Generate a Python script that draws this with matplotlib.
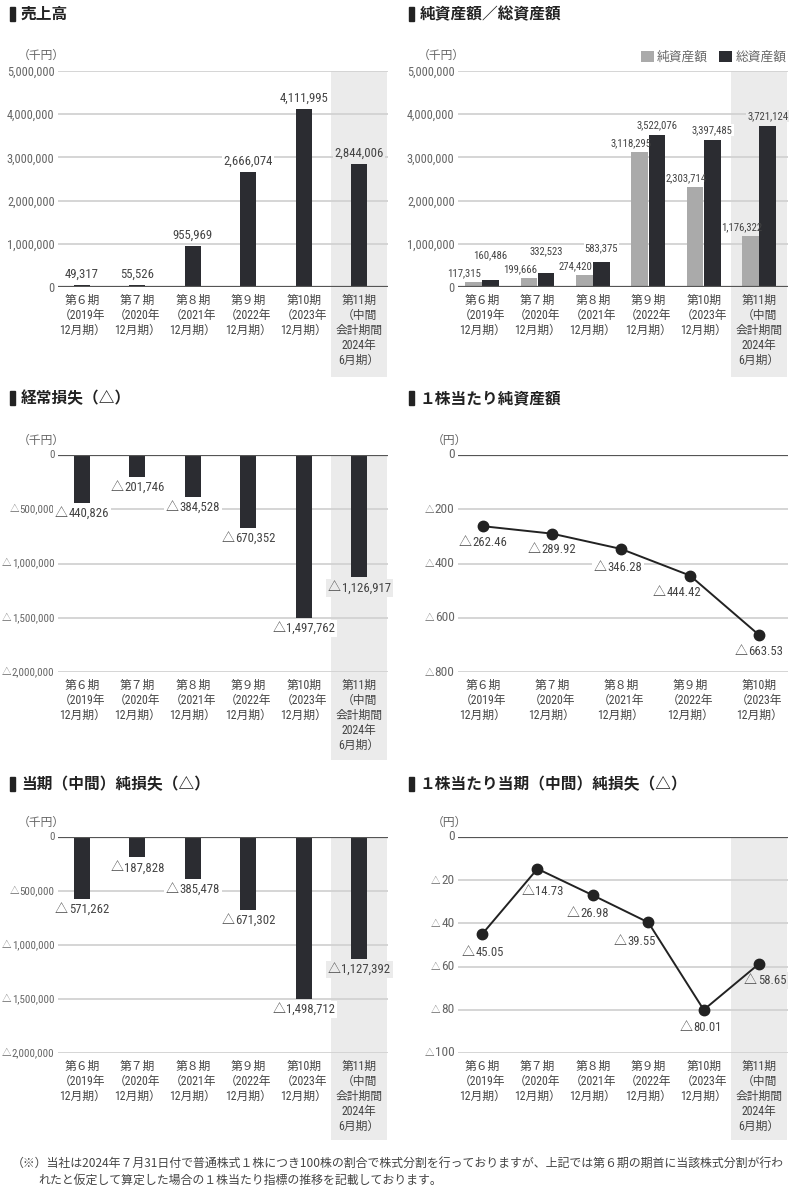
import matplotlib
matplotlib.use('Agg')
import matplotlib.pyplot as plt
from matplotlib import font_manager
from matplotlib.patches import Rectangle
from matplotlib.offsetbox import TextArea, HPacker, AnnotationBbox

CJK = 'Noto Sans CJK JP'
plt.rcParams['font.family'] = [CJK, 'DejaVu Sans']


def find_condensed():
    pref = ['Roboto Condensed', 'Liberation Sans Narrow', 'Noto Sans Condensed', 'Open Sans Condensed',
            'DejaVu Sans Condensed', 'Noto Sans', 'Roboto', 'Open Sans', 'DejaVu Sans', 'Inter', 'Lato']
    cond_names = ('ultra-condensed', 'extra-condensed', 'condensed', 'semi-condensed')
    found = []
    for f in font_manager.fontManager.ttflist:
        st = f.stretch
        if isinstance(st, str):
            cond = st in cond_names
        else:
            cond = st < 500
        if 'Condensed' in f.name or 'Narrow' in f.name:
            cond = True
        w = f.weight
        if isinstance(w, str):
            w = {'normal': 400, 'regular': 400, 'book': 400, 'medium': 500}.get(w, 700 if 'bold' in w else 300)
        if cond and w in (400, 500) and f.style == 'normal' and 'CJK' not in f.name and 'Mono' not in f.name:
            rank = pref.index(f.name) if f.name in pref else len(pref)
            found.append((rank, f.name, st))
    if not found:
        return None
    found.sort(key=lambda t: (t[0], str(t[2])))
    return found[0]


cf = find_condensed()
if cf is not None:
    NUM = dict(family=[cf[1], CJK, 'DejaVu Sans'], stretch=cf[2])
else:
    NUM = dict(family=['Liberation Sans', CJK, 'DejaVu Sans'])
TRI = dict(family=[CJK, 'DejaVu Sans'])

# ---------------- data ----------------
categories6 = ['第６期\n（2019年\n12月期）', '第７期\n（2020年\n12月期）', '第８期\n（2021年\n12月期）',
               '第９期\n（2022年\n12月期）', '第10期\n（2023年\n12月期）', '第11期\n（中間\n会計期間\n2024年\n6月期）']
categories5 = categories6[:5]

sales = [49317, 55526, 955969, 2666074, 4111995, 2844006]
net_assets = [117315, 199666, 274420, 3118295, 2303714, 1176322]
total_assets = [160486, 332523, 583375, 3522076, 3397485, 3721124]
ordinary_loss = [-440826, -201746, -384528, -670352, -1497762, -1126917]
bps = [-262.46, -289.92, -346.28, -444.42, -663.53]
net_loss = [-571262, -187828, -385478, -671302, -1498712, -1127392]
eps = [-45.05, -14.73, -26.98, -39.55, -80.01, -58.65]

pos_ticks = [0, 1000000, 2000000, 3000000, 4000000, 5000000]
pos_ticklabels = ['0', '1,000,000', '2,000,000', '3,000,000', '4,000,000', '5,000,000']
neg_ticks = [0, -500000, -1000000, -1500000, -2000000]
neg_ticklabels = ['0', '△500,000', '△1,000,000', '△1,500,000', '△2,000,000']
bps_ticks = [0, -200, -400, -600, -800]
bps_ticklabels = ['0', '△200', '△400', '△600', '△800']
eps_ticks = [0, -20, -40, -60, -80, -100]
eps_ticklabels = ['0', '△20', '△40', '△60', '△80', '△100']

titles = ['売上高', '純資産額／総資産額', '経常損失（△）', '１株当たり純資産額',
          '当期（中間）純損失（△）', '１株当たり当期（中間）純損失（△）']
legend_labels = ['純資産額', '総資産額']
footnote = ['（※）当社は2024年７月31日付で普通株式１株につき100株の割合で株式分割を行っておりますが、上記では第６期の期首に当該株式分割が行わ',
            'れたと仮定して算定した場合の１株当たり指標の推移を記載しております。']

# ---------------- style ----------------
W, H = 800, 1200
DARK = '#2b2c31'
GREY = '#aaaaaa'
SHADE = '#ebebeb'
GRID = '#d2d2d2'
ZERO = '#555555'
TXT = '#444444'
TICK = '#666666'

fig = plt.figure(figsize=(W / 100, H / 100), dpi=100)
renderer = fig.canvas.get_renderer()


def fit(s, target_px, props, lo=4, hi=13):
    t = fig.text(0, 0, s, fontsize=10, **props)
    w = t.get_window_extent(renderer).width
    t.remove()
    return max(lo, min(hi, 10 * target_px / w))


FS_TL_TICK = fit('5,000,000', 47, NUM)
FS_TL_LAB = fit('4,111,995', 49, NUM)
FS_TR_LAB = fit('3,118,295', 41, NUM)
NEG_TICK = (fit('△', 9.5, TRI), fit('1,000,000', 42, NUM))
NEG_LAB = (fit('△', 13, TRI), fit('440,826', 40, NUM))
PS_TICK = (fit('△', 9.5, TRI), fit('200', 19.5, NUM))
PS_LAB = (fit('△', 13, TRI), fit('262.46', 34, NUM))
FS_X = 8.5
FS_UNIT = 8.5
FS_LEG = fit('純資産額', 51, {})
FS_FOOT = fit(footnote[0], 775, {})


def px_axes(x0, x1, y0, y1):
    ax = fig.add_axes([x0 / W, 1 - y1 / H, (x1 - x0) / W, (y1 - y0) / H])
    ax.set_facecolor('none')
    for s in ax.spines.values():
        s.set_visible(False)
    ax.set_axisbelow(True)
    return ax


def fmt_int(v):
    return f'{v:,}' if v >= 0 else f'△{abs(v):,}'


def fmt_dec(v):
    return f'{v:.2f}' if v >= 0 else f'△{abs(v):.2f}'


def tri_text(ax, s, xy, sizes, color, xycoords='data', xybox=(0, 0), align=(0.5, 0.5),
             bgcolor=None, zorder=2):
    """Label such as '△440,826': the triangle in the CJK font, the figures in the condensed font."""
    parts = []
    if s.startswith('△'):
        parts.append(TextArea('△', textprops=dict(fontsize=sizes[0], color=color, **TRI)))
        s = s[1:]
    parts.append(TextArea(s, textprops=dict(fontsize=sizes[1], color=color, **NUM)))
    pack = HPacker(children=parts, align='baseline', pad=0, sep=0.5)
    ab = AnnotationBbox(pack, xy, xybox=xybox, xycoords=xycoords, boxcoords='offset points',
                        box_alignment=align, frameon=bgcolor is not None, pad=0.15,
                        bboxprops=dict(facecolor=bgcolor or 'white', edgecolor='none'),
                        annotation_clip=False, zorder=zorder)
    ax.add_artist(ab)


def title(x, y, s):
    fig.patches.append(Rectangle((x / W, 1 - (y + 7) / H), 5 / W, 14 / H,
                                 transform=fig.transFigure, color='#222222'))
    fig.text((x + 11) / W, 1 - y / H, s, ha='left', va='center', fontsize=11.3,
             fontweight='bold', color='#222222')


def unit(x, y, s):
    fig.text(x / W, 1 - y / H, s, ha='left', va='center', fontsize=FS_UNIT, color=TICK)


def setup(ax, ncat, ticks, ticklabels, ylim, ysize, xlim, shade, shade_bottom):
    ax.set_xlim(*xlim)
    ax.set_ylim(*ylim)
    ax.set_yticks(ticks)
    if isinstance(ysize, tuple):
        ax.tick_params(axis='y', length=0, labelleft=False)
        for t, lab in zip(ticks, ticklabels):
            tri_text(ax, lab, (0, t), ysize, TICK, xycoords=ax.get_yaxis_transform(),
                     xybox=(-2.5, 0), align=(1, 0.5), zorder=1)
    else:
        ax.set_yticklabels(ticklabels, fontsize=ysize, color=TICK, **NUM)
        ax.tick_params(axis='y', length=0, pad=2.5)
    ax.set_xticks(range(ncat))
    ax.set_xticklabels(categories6[:ncat], fontsize=FS_X, color=TXT,
                       linespacing=1.2, va='top', **NUM)
    ax.tick_params(axis='x', length=0, pad=5)
    for t in ticks:
        if t == 0:
            ax.axhline(0, color=ZERO, lw=1.6, zorder=4)
        else:
            ax.axhline(t, color=GRID, lw=1.3, zorder=0.6)
    if shade:
        ax.add_patch(Rectangle((ncat - 1.5, shade_bottom), 1, 1 - shade_bottom,
                               transform=ax.get_xaxis_transform(), clip_on=False,
                               facecolor=SHADE, edgecolor='none', zorder=0))


def bgc(i, n=6):
    return SHADE if i == n - 1 else 'white'


XL6 = (-0.433, 5.52)
PT = 0.72  # points per pixel

# ---- 売上高 ----
title(10, 14, titles[0])
unit(18, 55, '（千円）')
ax = px_axes(58, 388, 71, 287)
setup(ax, 6, pos_ticks, pos_ticklabels, (0, 5000000), FS_TL_TICK, XL6, True, -90 / 216)
ax.bar(range(6), sales, width=0.29, color=DARK, zorder=3)
for i, v in enumerate(sales):
    ax.annotate(fmt_int(v), (i, v), xytext=(0, 3), textcoords='offset points',
                ha='center', va='bottom', fontsize=FS_TL_LAB, color=TXT, zorder=2,
                bbox=dict(facecolor=bgc(i), edgecolor='none', pad=0.8), **NUM)

# ---- 純資産額／総資産額 ----
title(409, 14, titles[1])
unit(418, 55, '（千円）')
ax = px_axes(458, 788, 71, 287)
setup(ax, 6, pos_ticks, pos_ticklabels, (0, 5000000), FS_TL_TICK, XL6, True, -90 / 216)
x = list(range(6))
ax.bar([i - 0.155 for i in x], net_assets, width=0.3, color=GREY, zorder=3, label=legend_labels[0])
ax.bar([i + 0.155 for i in x], total_assets, width=0.3, color=DARK, zorder=3, label=legend_labels[1])
pxu = 216 / 5000000
for i in x:
    g_top = net_assets[i] * pxu
    d_top = total_assets[i] * pxu
    g_c = g_top + 9
    d_c = max(d_top + 10, g_c + 18)
    ax.annotate(fmt_int(net_assets[i]), (i - 0.155, net_assets[i]),
                xytext=(-9 * PT, (g_c - g_top) * PT), textcoords='offset points',
                ha='center', va='center', fontsize=FS_TR_LAB, color=TXT, zorder=3.5, **NUM)
    ax.annotate(fmt_int(total_assets[i]), (i + 0.155, total_assets[i]),
                xytext=(0, (d_c - d_top) * PT), textcoords='offset points',
                ha='center', va='center', fontsize=FS_TR_LAB, color=TXT, zorder=2,
                bbox=dict(facecolor=bgc(i), edgecolor='none', pad=0.8), **NUM)
leg = ax.legend(loc='center right', bbox_to_anchor=(0.995, 1.062), ncol=2, frameon=False,
                fontsize=FS_LEG, handlelength=1.0, handleheight=1.0, handletextpad=0.25,
                columnspacing=0.9, borderpad=0, borderaxespad=0)
for t in leg.get_texts():
    t.set_color(TICK)

# ---- 経常損失 ----
title(10, 398, titles[2])
unit(18, 440, '（千円）')
ax = px_axes(58, 388, 455, 672)
setup(ax, 6, neg_ticks, neg_ticklabels, (-2000000, 0), NEG_TICK, XL6, True, -88 / 217)
ax.bar(range(6), ordinary_loss, width=0.29, color=DARK, zorder=3)
for i, v in enumerate(ordinary_loss):
    tri_text(ax, fmt_int(v), (i, v), NEG_LAB, TXT, xybox=(0, -3), align=(0.5, 1), bgcolor=bgc(i))

# ---- 1株当たり純資産額 ----
title(409, 398, titles[3])
unit(432, 440, '（円）')
ax = px_axes(458, 788, 455, 672)
setup(ax, 5, bps_ticks, bps_ticklabels, (-800, 0), PS_TICK, (-0.362, 4.42), False, 0)
ax.plot(range(5), bps, color='#222222', lw=1.4, marker='o', markersize=7.5, zorder=5)
bps_off = [(0, -16), (0, -16), (-3, -19), (-13, -17), (0, -17)]
for i, v in enumerate(bps):
    dx, dy = bps_off[i]
    tri_text(ax, fmt_dec(v), (i, v), PS_LAB, TXT, xybox=(dx * PT, dy * PT), bgcolor='white')

# ---- 当期純損失 ----
title(10, 784, titles[4])
unit(18, 822, '（千円）')
ax = px_axes(58, 388, 837, 1053)
setup(ax, 6, neg_ticks, neg_ticklabels, (-2000000, 0), NEG_TICK, XL6, True, -87 / 216)
ax.bar(range(6), net_loss, width=0.29, color=DARK, zorder=3)
for i, v in enumerate(net_loss):
    tri_text(ax, fmt_int(v), (i, v), NEG_LAB, TXT, xybox=(0, -3), align=(0.5, 1), bgcolor=bgc(i))

# ---- 1株当たり当期純損失 ----
title(409, 784, titles[5])
unit(432, 822, '（円）')
ax = px_axes(458, 788, 837, 1053)
setup(ax, 6, eps_ticks, eps_ticklabels, (-100, 0), PS_TICK, XL6, True, -87 / 216)
ax.plot(range(6), eps, color='#222222', lw=1.4, marker='o', markersize=7.5, zorder=5)
eps_off = [(1, -18), (5, -23), (-5, -18), (-14, -19), (-3, -18), (6, -17)]
for i, v in enumerate(eps):
    dx, dy = eps_off[i]
    tri_text(ax, fmt_dec(v), (i, v), PS_LAB, TXT, xybox=(dx * PT, dy * PT), bgcolor=bgc(i))

# ---- footnote ----
fig.text(12 / W, 1 - 1163 / H, footnote[0], ha='left', va='center', fontsize=FS_FOOT, color=TXT)
fig.text(38 / W, 1 - 1180 / H, footnote[1], ha='left', va='center', fontsize=FS_FOOT, color=TXT)

fig.savefig('out.png', dpi=100)
